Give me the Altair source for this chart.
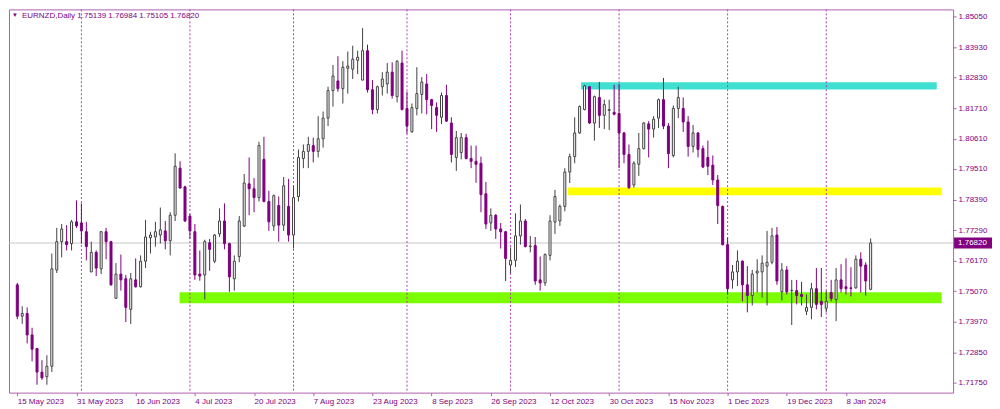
import altair as alt
import pandas as pd

symbol = "EURNZD,Daily"

opens = [1.7530, 1.7416, 1.7426, 1.7348, 1.7299, 1.7213, 1.7196, 1.7234, 1.7584, 1.7687,
         1.7687, 1.7680, 1.7759, 1.7755, 1.7723, 1.7577, 1.7648, 1.7588, 1.7723, 1.7687,
         1.7481, 1.7569, 1.7552, 1.7441, 1.7548, 1.7523, 1.7616, 1.7701, 1.7704, 1.7711,
         1.7726, 1.7690, 1.7783, 1.7954, 1.7886, 1.7780, 1.7723, 1.7569, 1.7566, 1.7683,
         1.7616, 1.7715, 1.7762, 1.7680, 1.7552, 1.7633, 1.7744, 1.7897, 1.7879, 1.7847,
         1.7986, 1.7833, 1.7744, 1.7818, 1.7747, 1.7815, 1.7711, 1.7851, 1.7989, 1.8015,
         1.8036, 1.8015, 1.8061, 1.8136, 1.8236, 1.8271, 1.8243, 1.8317, 1.8314, 1.8346,
         1.8274, 1.8381, 1.8239, 1.8167, 1.8250, 1.8260, 1.8303, 1.8214, 1.8336, 1.8171,
         1.8086, 1.8171, 1.8222, 1.8260, 1.8203, 1.8174, 1.8139, 1.8218, 1.8118, 1.7993,
         1.8011, 1.8065, 1.7989, 1.7979, 1.7972, 1.7861, 1.7755, 1.7783, 1.7733, 1.7723,
         1.7602, 1.7619, 1.7708, 1.7762, 1.7669, 1.7673, 1.7548, 1.7537, 1.7637, 1.7758,
         1.7762, 1.7815, 1.7940, 1.7996, 1.8082, 1.8167, 1.8250, 1.8118, 1.8211, 1.8146,
         1.8164, 1.8157, 1.8153, 1.8082, 1.8004, 1.7893, 1.7968, 1.8025, 1.8115, 1.8096,
         1.8136, 1.8203, 1.8107, 1.8000, 1.8171, 1.8171, 1.8122, 1.8033, 1.8082, 1.8025,
         1.7993, 1.7965, 1.7911, 1.7815, 1.7676, 1.7548, 1.7577, 1.7616, 1.7530, 1.7491,
         1.7573, 1.7577, 1.7598, 1.7612, 1.7711, 1.7505, 1.7584, 1.7509, 1.7509, 1.7495,
         1.7434, 1.7448, 1.7516, 1.7470, 1.7445, 1.7502, 1.7477, 1.7548, 1.7523, 1.7519,
         1.7519, 1.7623, 1.7602, 1.75139]

highs = [1.7537, 1.7452, 1.7448, 1.7374, 1.7299, 1.7256, 1.7274, 1.7644, 1.7737, 1.7751,
         1.7747, 1.7766, 1.7837, 1.7826, 1.7759, 1.7687, 1.7655, 1.7726, 1.7737, 1.7690,
         1.7609, 1.7640, 1.7566, 1.7573, 1.7626, 1.7637, 1.7766, 1.7723, 1.7759, 1.7811,
         1.7762, 1.7794, 1.8008, 1.7979, 1.7890, 1.7787, 1.7751, 1.7655, 1.7694, 1.7697,
         1.7715, 1.7808, 1.7826, 1.7683, 1.7637, 1.7780, 1.7933, 1.7993, 1.7918, 1.8050,
         1.8068, 1.7872, 1.7858, 1.7851, 1.7922, 1.7915, 1.7890, 1.8022, 1.8040, 1.8068,
         1.8065, 1.8143, 1.8160, 1.8250, 1.8329, 1.8361, 1.8343, 1.8378, 1.8399, 1.8381,
         1.8463, 1.8403, 1.8274, 1.8254, 1.8303, 1.8336, 1.8339, 1.8346, 1.8381, 1.8232,
         1.8189, 1.8321, 1.8285, 1.8296, 1.8206, 1.8193, 1.8229, 1.8257, 1.8139, 1.8089,
         1.8082, 1.8079, 1.8036, 1.8036, 1.7996, 1.7904, 1.7808, 1.7787, 1.7755, 1.7726,
         1.7666, 1.7790, 1.7822, 1.7769, 1.7708, 1.7704, 1.7633, 1.7644, 1.7783, 1.7875,
         1.7822, 1.7954, 1.8007, 1.8139, 1.8182, 1.8257, 1.8253, 1.8218, 1.8267, 1.8203,
         1.8203, 1.8257, 1.8260, 1.8086, 1.8040, 1.7979, 1.8082, 1.8122, 1.8125, 1.8143,
         1.8207, 1.8282, 1.8118, 1.8182, 1.8250, 1.8211, 1.8143, 1.8111, 1.8085, 1.8036,
         1.8054, 1.8000, 1.7929, 1.7818, 1.7701, 1.7602, 1.7655, 1.7619, 1.7598, 1.7584,
         1.7623, 1.7637, 1.7726, 1.7737, 1.7740, 1.7609, 1.7598, 1.7548, 1.7548, 1.7541,
         1.7495, 1.7537, 1.7591, 1.7591, 1.7509, 1.7548, 1.7591, 1.7605, 1.7626, 1.7594,
         1.7637, 1.7648, 1.7612, 1.76984]

lows = [1.7405, 1.7388, 1.7317, 1.7252, 1.7167, 1.7185, 1.7167, 1.7213, 1.7573, 1.7630,
        1.7655, 1.7655, 1.7737, 1.7680, 1.7619, 1.7577, 1.7562, 1.7569, 1.7623, 1.7527,
        1.7481, 1.7509, 1.7395, 1.7388, 1.7520, 1.7520, 1.7591, 1.7644, 1.7669, 1.7680,
        1.7659, 1.7637, 1.7762, 1.7879, 1.7759, 1.7697, 1.7548, 1.7545, 1.7477, 1.7581,
        1.7609, 1.7704, 1.7659, 1.7505, 1.7509, 1.7612, 1.7740, 1.7783, 1.7794, 1.7833,
        1.7830, 1.7726, 1.7726, 1.7687, 1.7726, 1.7687, 1.7662, 1.7833, 1.7954, 1.7954,
        1.7975, 1.7993, 1.8029, 1.8107, 1.8178, 1.8232, 1.8189, 1.8225, 1.8278, 1.8296,
        1.8274, 1.8229, 1.8150, 1.8153, 1.8218, 1.8225, 1.8207, 1.8193, 1.8164, 1.8079,
        1.8083, 1.8146, 1.8153, 1.8150, 1.8096, 1.8086, 1.8114, 1.8122, 1.7975, 1.7944,
        1.7986, 1.7986, 1.7954, 1.7901, 1.7794, 1.7733, 1.7726, 1.7697, 1.7662, 1.7544,
        1.7573, 1.7595, 1.7676, 1.7666, 1.7648, 1.7530, 1.7509, 1.7526, 1.7619, 1.7715,
        1.7744, 1.7797, 1.7900, 1.7972, 1.8079, 1.8164, 1.8115, 1.8054, 1.8100, 1.8096,
        1.8093, 1.8146, 1.7954, 1.7972, 1.7879, 1.7883, 1.7926, 1.8022, 1.7993, 1.8065,
        1.8100, 1.8096, 1.7954, 1.7993, 1.8136, 1.8086, 1.7996, 1.8011, 1.7993, 1.7954,
        1.7929, 1.7893, 1.7751, 1.7673, 1.7495, 1.7516, 1.7526, 1.7470, 1.7430, 1.7455,
        1.7502, 1.7484, 1.7455, 1.7605, 1.7530, 1.7473, 1.7495, 1.7384, 1.7459, 1.7455,
        1.7420, 1.7405, 1.7441, 1.7413, 1.7430, 1.7470, 1.7398, 1.7502, 1.7495, 1.7488,
        1.7516, 1.7502, 1.7491, 1.75105]

closes = [1.7416, 1.7426, 1.7348, 1.7296, 1.7213, 1.7192, 1.7234, 1.7588, 1.7687, 1.7733,
          1.7676, 1.7759, 1.7744, 1.7726, 1.7669, 1.7648, 1.7591, 1.7723, 1.7687, 1.7530,
          1.7569, 1.7548, 1.7448, 1.7552, 1.7523, 1.7616, 1.7704, 1.7711, 1.7723, 1.7730,
          1.7690, 1.7783, 1.7961, 1.7882, 1.7762, 1.7726, 1.7566, 1.7562, 1.7687, 1.7659,
          1.7711, 1.7762, 1.7680, 1.7559, 1.7616, 1.7762, 1.7900, 1.7879, 1.7847, 1.8036,
          1.7833, 1.7759, 1.7854, 1.7747, 1.7890, 1.7711, 1.7847, 1.7993, 1.8015, 1.8040,
          1.8015, 1.8061, 1.8136, 1.8236, 1.8289, 1.8243, 1.8321, 1.8325, 1.8350, 1.8357,
          1.8381, 1.8239, 1.8167, 1.8250, 1.8278, 1.8303, 1.8218, 1.8343, 1.8167, 1.8107,
          1.8174, 1.8225, 1.8267, 1.8203, 1.8182, 1.8146, 1.8218, 1.8125, 1.8004, 1.8065,
          1.8065, 1.7989, 1.7979, 1.7968, 1.7858, 1.7751, 1.7783, 1.7733, 1.7723, 1.7626,
          1.7619, 1.7708, 1.7762, 1.7669, 1.7671, 1.7544, 1.7537, 1.7640, 1.7762, 1.7851,
          1.7815, 1.7940, 1.7996, 1.8082, 1.8178, 1.8253, 1.8118, 1.8214, 1.8146, 1.8185,
          1.8167, 1.8150, 1.8082, 1.8004, 1.7883, 1.7972, 1.8025, 1.8118, 1.8096, 1.8132,
          1.8203, 1.8107, 1.8007, 1.8171, 1.8211, 1.8122, 1.8033, 1.8082, 1.8022, 1.7958,
          1.7961, 1.7911, 1.7818, 1.7676, 1.7516, 1.7577, 1.7616, 1.7530, 1.7491, 1.7569,
          1.7580, 1.7609, 1.7612, 1.7708, 1.7544, 1.7584, 1.7505, 1.7510, 1.7491, 1.7488,
          1.7448, 1.7516, 1.7459, 1.7459, 1.7470, 1.7480, 1.7548, 1.7516, 1.7516, 1.7517,
          1.7623, 1.7598, 1.7544, 1.76820]

tick_bars = [0, 12, 24, 36, 48, 60, 72, 84, 96, 108, 120, 132, 144, 156, 168]
tick_labels = ["15 May 2023", "31 May 2023", "16 Jun 2023", "4 Jul 2023", "20 Jul 2023",
               "7 Aug 2023", "23 Aug 2023", "8 Sep 2023", "26 Sep 2023", "12 Oct 2023",
               "30 Oct 2023", "15 Nov 2023", "1 Dec 2023", "19 Dec 2023", "8 Jan 2024"]
month_start_bars = [13, 35, 56, 79, 100, 122, 144, 164]
price_ticks = [1.71750, 1.72850, 1.73970, 1.75070, 1.76170, 1.77290, 1.78390,
               1.79510, 1.80610, 1.81710, 1.82830, 1.83930, 1.85050]

zone_names = ["resistance", "middle", "support"]
zone_top = [1.82664, 1.78838, 1.75027]
zone_bottom = [1.82400, 1.78553, 1.74635]
zone_from_bar = [114.3, 111.6, 32.9]
zone_to_bar = [186.4, 187.4, 187.4]

last_price = closes[-1]

# ---------------- styling ----------------
W, H = 946, 384
PURPLE = "#800080"
FRAME = "#B060B0"
FONT = "Liberation Sans"
zone_colors = ["#40E0D0", "#FFFF00", "#7CFC00"]

x_dom = [-0.67, 188.7]
y_dom = [1.71383, 1.85310]
x_scale = alt.Scale(domain=x_dom, nice=False, zero=False)
y_scale = alt.Scale(domain=y_dom, nice=False, zero=False)

label_js = "[" + ",".join("'" + t + "'" for t in tick_labels) + "]"
x_axis = alt.Axis(values=tick_bars, labelExpr=label_js + "[round(datum.value/12)]",
                  labelAlign="left", labelFont=FONT, labelFontSize=8, labelColor=PURPLE,
                  tickColor=FRAME, tickSize=3, domain=False, grid=False, title=None,
                  labelPadding=2, labelOverlap=False, labelFlush=False)
y_axis = alt.Axis(values=price_ticks, format=".5f", orient="right", labelFont=FONT,
                  labelFontSize=8, labelColor=PURPLE, tickColor=FRAME, tickSize=3,
                  domain=False, grid=False, title=None, labelPadding=2,
                  labelOverlap=False, labelFlush=False)

df = pd.DataFrame({"bar": list(range(len(opens))), "open": opens, "high": highs,
                   "low": lows, "close": closes})

up = "datum.close >= datum.open"

zones = pd.DataFrame({"zone": zone_names, "top": zone_top, "bottom": zone_bottom,
                      "start": zone_from_bar, "end": zone_to_bar})
bands = alt.Chart(zones).mark_rect().encode(
    x=alt.X("start:Q", scale=x_scale, axis=x_axis),
    x2="end:Q",
    y=alt.Y("top:Q", scale=y_scale, axis=y_axis),
    y2="bottom:Q",
    color=alt.Color("zone:N", scale=alt.Scale(domain=zone_names, range=zone_colors), legend=None),
)

price_line = alt.Chart(pd.DataFrame({"p": [last_price]})).mark_rule(
    color="#C8C8C8", strokeWidth=1).encode(y=alt.Y("p:Q", scale=y_scale, axis=y_axis))

seps = alt.Chart(pd.DataFrame({"bar": month_start_bars})).mark_rule(
    color="#B040B0", strokeWidth=1, strokeDash=[2, 2]).encode(
    x=alt.X("bar:Q", scale=x_scale, axis=x_axis))

wicks = alt.Chart(df).mark_rule(strokeWidth=1).encode(
    x=alt.X("bar:Q", scale=x_scale, axis=x_axis),
    y=alt.Y("low:Q", scale=y_scale, axis=y_axis),
    y2="high:Q",
    color=alt.condition(up, alt.value("#404040"), alt.value(PURPLE)),
)

bodies = alt.Chart(df).mark_bar(size=2, strokeWidth=1).encode(
    x=alt.X("bar:Q", scale=x_scale, axis=x_axis),
    y=alt.Y("open:Q", scale=y_scale, axis=y_axis),
    y2="close:Q",
    fill=alt.condition(up, alt.value("#FFFFFF"), alt.value(PURPLE)),
    stroke=alt.condition(up, alt.value("#404040"), alt.value(PURPLE)),
)

header = "{} {:.5f} {:.5f} {:.5f} {:.5f}".format(symbol, opens[-1], highs[-1], lows[-1], closes[-1])
head_df = pd.DataFrame({"t": [header]})
head_tri = alt.Chart(head_df).mark_text(
    align="left", baseline="middle", font=FONT, fontSize=6, color=PURPLE).encode(
    x=alt.value(3), y=alt.value(6), text=alt.value("\u25BC"))
head_txt = alt.Chart(head_df).mark_text(
    align="left", baseline="middle", font=FONT, fontSize=8, color=PURPLE).encode(
    x=alt.value(13), y=alt.value(7), text="t:N")

half = 5.5 * (y_dom[1] - y_dom[0]) / H
box_df = pd.DataFrame({"p": [last_price], "top": [last_price + half],
                       "bottom": [last_price - half],
                       "label": ["{:.5f}".format(last_price)]})
box = alt.Chart(box_df).mark_rect(color=PURPLE).encode(
    x=alt.value(W + 1), x2=alt.value(W + 39),
    y=alt.Y("top:Q", scale=y_scale, axis=y_axis), y2="bottom:Q")
box_txt = alt.Chart(box_df).mark_text(
    align="left", baseline="middle", font=FONT, fontSize=8, color="#FFFFFF").encode(
    x=alt.value(W + 5), y=alt.Y("p:Q", scale=y_scale, axis=y_axis), text="label:N")

chart = alt.layer(bands, price_line, seps, wicks, bodies, head_tri, head_txt, box, box_txt).properties(
    width=W, height=H, padding={"left": 0, "top": 0, "right": 0, "bottom": 0},
    background="#FFFFFF",
).configure_view(stroke=FRAME, strokeWidth=1)

chart.save("out.html", embed_options={"renderer": "svg", "actions": False})
